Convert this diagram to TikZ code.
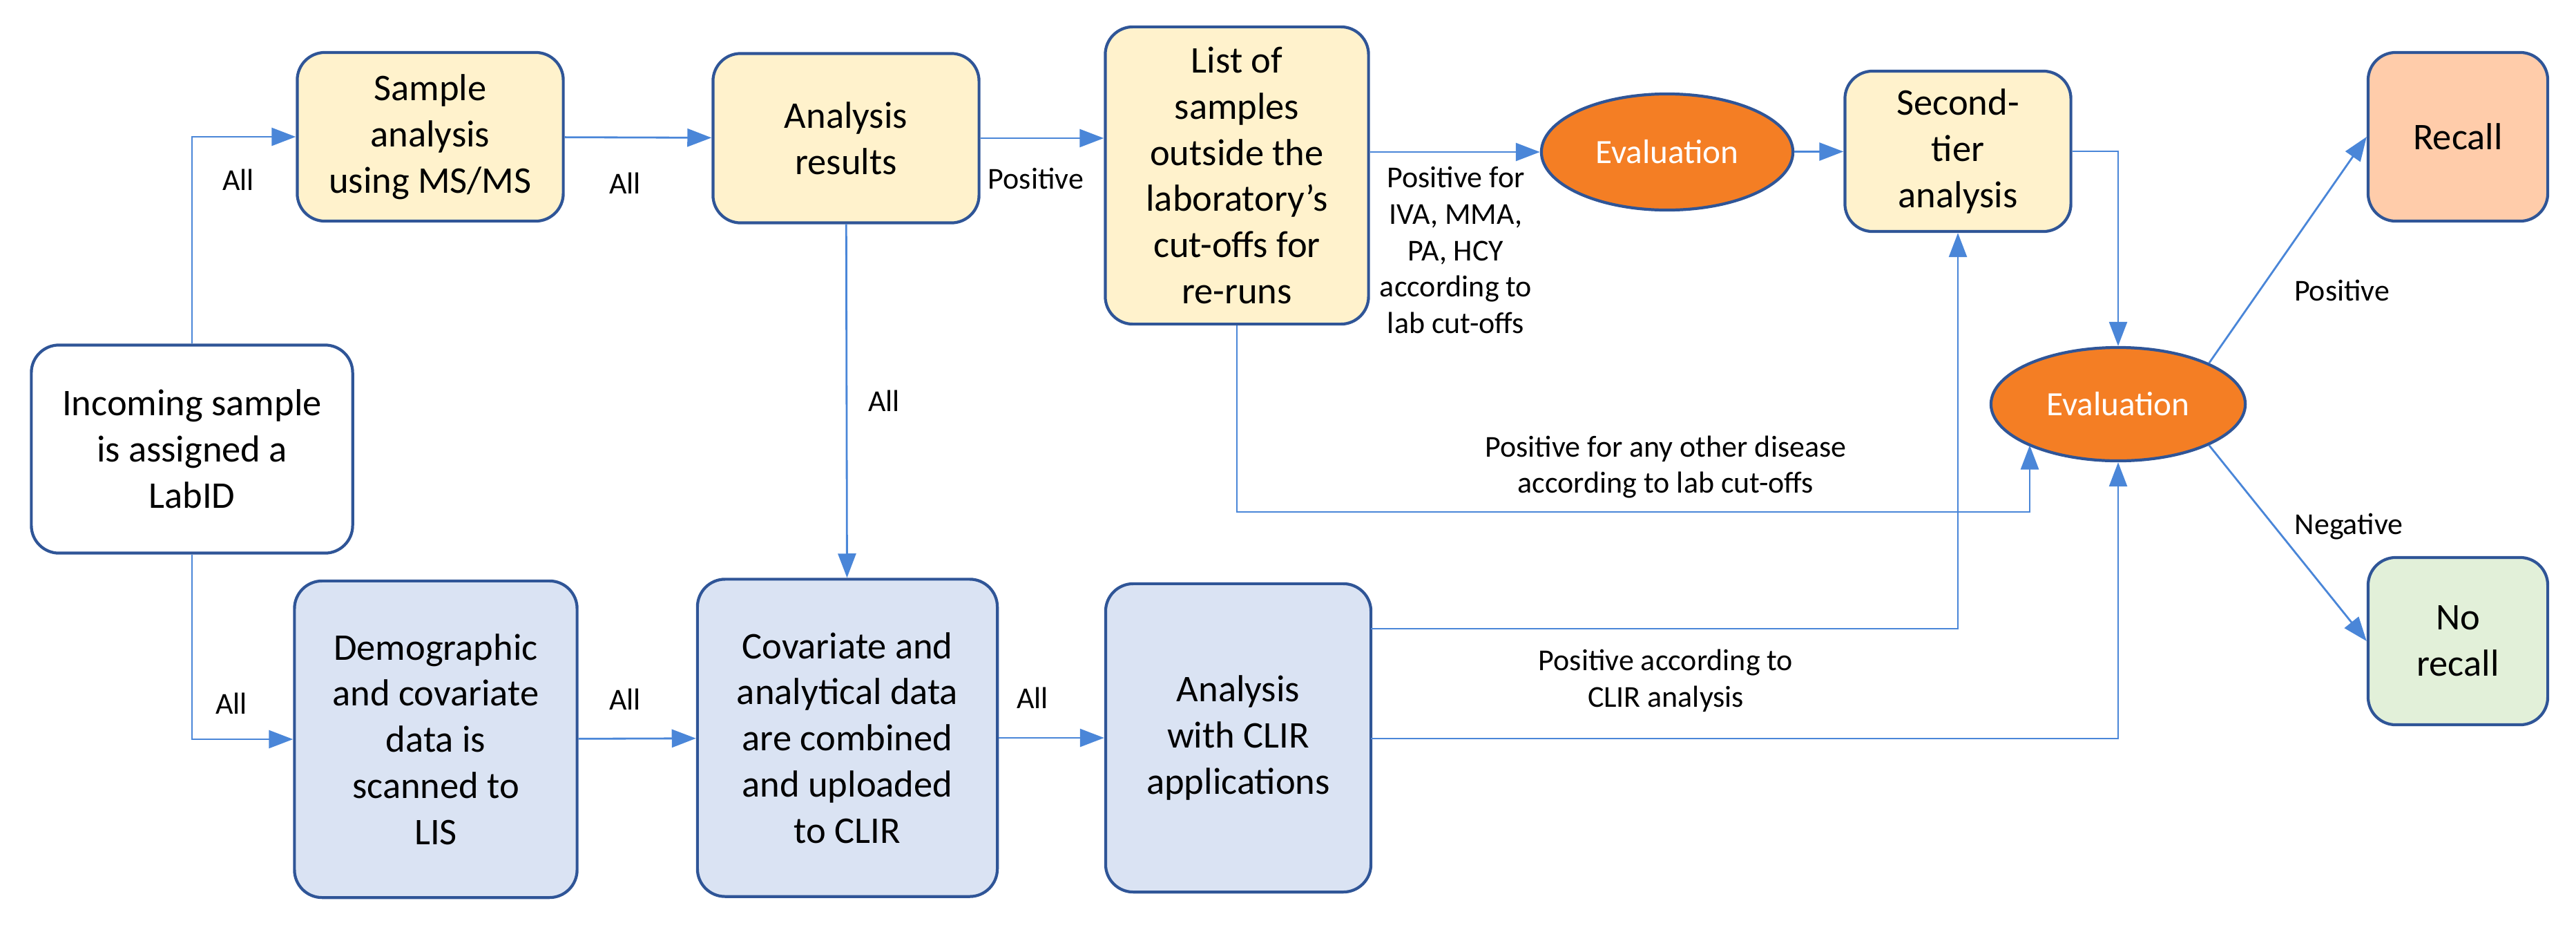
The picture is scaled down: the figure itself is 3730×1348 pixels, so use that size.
\documentclass[tikz,border=0pt]{standalone}
\usepackage{fontspec}
\setmainfont{Carlito}
\usetikzlibrary{shapes.geometric,arrows.meta}
\definecolor{boxline}{HTML}{2F5597}
\definecolor{arrowline}{HTML}{4A86D8}
\definecolor{yellowfill}{HTML}{FFF2CC}
\definecolor{bluefill}{HTML}{DAE3F3}
\definecolor{evalfill}{HTML}{F47E24}
\definecolor{recallfill}{HTML}{FFCCAA}
\definecolor{norecallfill}{HTML}{E2F0D9}
\tikzset{
    box/.style={draw=boxline, line width=1.2pt, rounded corners=4mm, align=center,
        inner sep=2pt, font=\fontsize{15.5}{19}\selectfont},
    size/.style 2 args={minimum width=#1*0.1mm, minimum height=#2*0.1mm},
    evalnode/.style={ellipse, draw=boxline, line width=1.2pt, fill=evalfill,
        text=white, inner sep=0pt, font=\fontsize{14}{17}\selectfont},
    flow/.style={draw=arrowline, line width=0.8pt, -{Triangle[length=3.5mm,width=2.6mm]}},
    lbl/.style={font=\fontsize{12.5}{15}\selectfont, align=center}
}
\begin{document}
\begin{tikzpicture}[x=0.01cm,y=-0.01cm]
    \useasboundingbox (0,0) rectangle (3730,1348);
    %boxes
    \node[box, size={465}{301}] (incoming) at (278,650) {Incoming sample\\is assigned a\\LabID};
    \node[box, fill=yellowfill, size={385}{244}] (sample) at (623,198) {Sample\\analysis\\using MS/MS};
    \node[box, fill=yellowfill, size={385}{245}] (results) at (1225,200) {Analysis\\results};
    \node[box, fill=yellowfill, size={381}{430}] (list) at (1791,254) {List of\\samples\\outside the\\laboratory’s\\cut-offs for\\re-runs};
    \node[box, fill=bluefill, size={409}{458}] (demo) at (631,1070) {Demographic\\and covariate\\data is\\scanned to\\LIS};
    \node[box, fill=bluefill, size={434}{459}] (covar) at (1227,1068) {Covariate and\\analytical data\\are combined\\and uploaded\\to CLIR};
    \node[box, fill=bluefill, size={384}{446}] (clir) at (1793,1068) {Analysis\\with CLIR\\applications};
    \node[box, fill=yellowfill, size={327}{232}] (second) at (2835,219) {Second-\\tier\\analysis};
    \node[box, fill=recallfill, size={260}{244}] (recall) at (3559,198) {Recall};
    \node[box, fill=norecallfill, size={260}{242}] (norecall) at (3559,928) {No\\recall};
    %ellipses
    \node[evalnode, size={364}{168}] (evalA) at (2414,220) {Evaluation};
    \node[evalnode, size={368}{164}] (evalB) at (3067,585) {Evaluation};
    %helper points
    \coordinate (listturn) at (1791,741);
    \coordinate (otherend) at (2939,741);
    \coordinate (clirhigh) at (1985,910);
    \coordinate (clirlow) at (1985,1069);
    %draw connectors
    \draw[flow] (incoming.north) |- (sample.west);
    \draw[flow] (incoming.south) |- (demo.west);
    \draw[flow] (sample) -- (results);
    \draw[flow] (results) -- (results -| list.west);
    \draw[flow] (results) -- (covar);
    \draw[flow] (demo) -- (covar);
    \draw[flow] (covar) -- (clir);
    \draw[flow] (evalA.west -| list.east) -- (evalA.west);
    \draw[flow] (evalA) -- (second);
    \draw[flow] (second.east) -| (evalB.north);
    \draw[flow] (list.south) -- (listturn) -- (otherend) -- (otherend |- evalB.south west);
    \draw[flow] (clirhigh) -| (second.south);
    \draw[flow] (clirlow) -| (evalB.south);
    \draw[flow] (evalB.north east) -- (recall.west);
    \draw[flow] (evalB.south east) -- (norecall.west);
    %labels
    \node[lbl] (lallA) at (345,260) {All};
    \node[lbl] (lallB) at (335,1018) {All};
    \node[lbl] (lallC) at (905,265) {All};
    \node[lbl] (lpos) at (1500,258) {Positive};
    \node[lbl] (lallD) at (1280,580) {All};
    \node[lbl] (lallE) at (905,1012) {All};
    \node[lbl] (lallF) at (1495,1010) {All};
    \node[lbl] (livam) at (2108,362) {Positive for\\IVA, MMA,\\PA, HCY\\according to\\lab cut-offs};
    \node[lbl] (lother) at (2412,676) {Positive for any other disease\\according to lab cut-offs};
    \node[lbl] (lclir) at (2412,985) {Positive according to\\CLIR analysis};
    \node[lbl] (lrecall) at (3391,420) {Positive};
    \node[lbl] (lnorecall) at (3401,762) {Negative};
\end{tikzpicture}
\end{document}
